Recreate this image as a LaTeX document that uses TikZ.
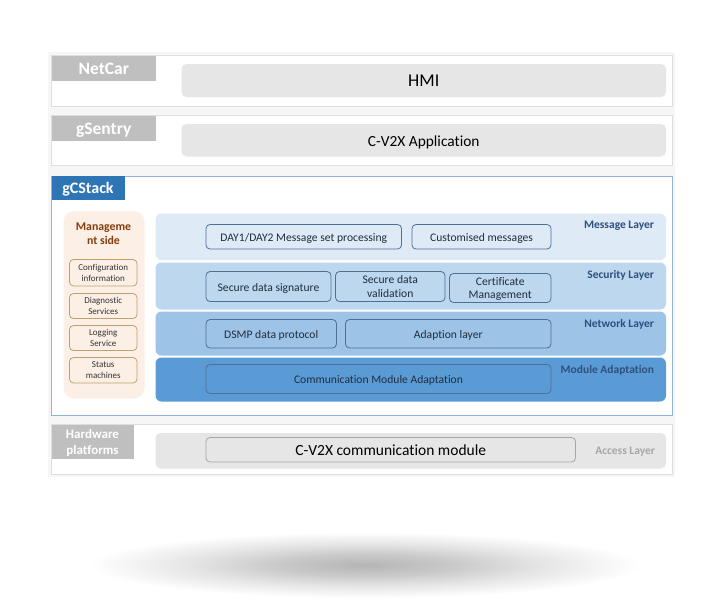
\documentclass[tikz,border=0pt]{standalone}
\usepackage{fontspec}
\setmainfont[Ligatures=NoCommon]{Carlito}
\definecolor{pageband}{HTML}{F6F6F6}
\definecolor{frameline}{HTML}{DEDEDE}
\definecolor{taggrey}{HTML}{BFBFBF}
\definecolor{barfill}{HTML}{E6E6E6}
\definecolor{stackblue}{HTML}{2E75B6}
\definecolor{stackline}{HTML}{8FB5DB}
\definecolor{sidefill}{HTML}{FCEFE6}
\definecolor{sideline}{HTML}{BFA170}
\definecolor{sidetitle}{HTML}{843C0C}
\definecolor{msgfill}{HTML}{DEEAF6}
\definecolor{secfill}{HTML}{BDD7EE}
\definecolor{netfill}{HTML}{9DC3E6}
\definecolor{modfill}{HTML}{5B9BD5}
\definecolor{innerline}{HTML}{4F7096}
\definecolor{inktext}{HTML}{1F2D3D}
\definecolor{layertext}{HTML}{2F4F7F}
\pgfdeclareradialshading{groundshade}{\pgfpointorigin}{
color(0bp)=(black!29);
color(3bp)=(black!26);
color(8bp)=(black!21);
color(16bp)=(black!10);
color(25bp)=(white);
color(100bp)=(white)}
\tikzset{
box/.style={anchor=north west, inner sep=0, outer sep=0, align=center, text depth=0pt},
framebox/.style={box, draw=frameline, line width=1pt, fill=white},
tagbox/.style={box, fill=taggrey, text=white, text height=13, font=\fontsize{17.5}{19}\selectfont\bfseries},
barbox/.style={box, fill=barfill, rounded corners=5pt, text=black, text height=12},
layerbox/.style={box, rounded corners=6pt},
innerbox/.style={box, draw=innerline, line width=.8pt, rounded corners=4pt, text=inktext, font=\fontsize{11.6}{13.5}\selectfont},
oneline/.style={text height=9.5},
twoline/.style={text height={}},
sidebox/.style={box, draw=sideline, fill=sidefill, line width=.8pt, rounded corners=4pt, text=black!80, font=\fontsize{9}{10.6}\selectfont},
layername/.style={anchor=east, inner sep=0, outer sep=0, text=layertext, font=\fontsize{11.5}{13}\selectfont\bfseries},
}
\begin{document}
\begin{tikzpicture}[x=1pt, y=-1pt]
\useasboundingbox (0,0) rectangle (720,600);
\shade[shading=groundshade] (365,565) ellipse (276 and 33);
\fill[pageband] (48,52) rectangle (675,477);
% outer frames
\node[framebox, minimum width=621.5, minimum height=51] (netcarframe) at (51,55) {};
\node[framebox, minimum width=621.5, minimum height=50.5] (gsentryframe) at (51,115) {};
\node[framebox, draw=stackline, minimum width=621.5, minimum height=239] (gcstackframe) at (51,176) {};
\node[framebox, minimum width=621.5, minimum height=50] (hardwareframe) at (51,424) {};
% tags
\node[tagbox, minimum width=104.5, minimum height=25.5] (netcartag) at (51.5,55.5) {NetCar};
\node[tagbox, minimum width=104.5, minimum height=25] (gsentrytag) at (51.5,115.5) {gSentry};
\node[tagbox, fill=stackblue, minimum width=73, minimum height=24, text height=10, font=\fontsize{16}{18}\selectfont\bfseries] (gcstacktag) at (51.5,176) {gCStack};
\node[tagbox, twoline, minimum width=82, minimum height=34.5, font=\fontsize{13}{15.5}\selectfont\bfseries] (hardwaretag) at (51.5,424.5) {Hardware\\platforms};
% top bars
\node[barbox, minimum width=484.5, minimum height=33, font=\fontsize{18}{20}\selectfont] (hmi) at (181.5,64) {HMI};
\node[barbox, minimum width=484.5, minimum height=32.5, font=\fontsize{15.4}{18}\selectfont] (cvapp) at (181.5,124) {C-V2X Application};
% management side
\node[box, fill=sidefill, rounded corners=11pt, minimum width=81, minimum height=187.5] (mgmt) at (63.5,211) {};
\node[inner sep=0, align=center, text=sidetitle, font=\fontsize{11.8}{13.5}\selectfont\bfseries] (mgmttitle) at (103.5,233.5) {Manageme\\nt side};
\foreach \y/\h/\name/\txt in {259.5/26.5/cfginfo/{Configuration\\information},
293.5/25/diag/{Diagnostic\\Services},
325.5/25/logsvc/{Logging\\Service},
357.5/25.5/status/{Status\\machines}} {
\node[sidebox, minimum width=67.5, minimum height=\h] (\name) at (69.5,\y) {\txt};
}
% layers
\foreach \y/\h/\c/\name in {213.5/46.5/msgfill/msglayer, 262.5/47/secfill/seclayer, 311.5/44/netfill/netlayer, 357.5/44/modfill/modlayer} {
\node[layerbox, fill=\c, minimum width=510.5, minimum height=\h] (\name) at (155.5,\y) {};
}
\node[layername] (msgname) at (654,226) {Message Layer};
\node[layername] (secname) at (654,275) {Security Layer};
\node[layername] (netname) at (654,324) {Network Layer};
\node[layername] (modname) at (654,370) {Module Adaptation};
% inner boxes
\foreach \x/\y/\w/\h/\st/\name/\txt in {206/224.5/195.5/24.5/oneline/dayset/{DAY1/DAY2 Message set processing},
412/224.5/139/24.5/oneline/custom/{Customised messages},
206/271.5/125/30/oneline/signbox/{Secure data signature},
335.5/271.5/109.5/30/twoline/validbox/{Secure data\\validation},
449.5/273.5/101.5/29/twoline/certbox/{Certificate\\Management},
206/319.5/130.5/28.5/oneline/dsmp/{DSMP data protocol},
345.5/319.5/205.5/28.5/oneline/adapt/{Adaption layer},
206/364.5/345/29/oneline/commod/{Communication Module Adaptation}} {
\node[innerbox, \st, minimum width=\w, minimum height=\h] (\name) at (\x,\y) {\txt};
}
% hardware row
\node[barbox, minimum width=510.5, minimum height=35.5] (accessbar) at (155.5,433) {};
\node[box, draw=black!35, line width=.8pt, rounded corners=4pt, text height=12, minimum width=369.5, minimum height=24.5, font=\fontsize{15.5}{18}\selectfont] (cvmodule) at (206,437.5) {C-V2X communication module};
\node[layername, text=black!35] (accessname) at (655,452) {Access Layer};
\end{tikzpicture}
\end{document}
